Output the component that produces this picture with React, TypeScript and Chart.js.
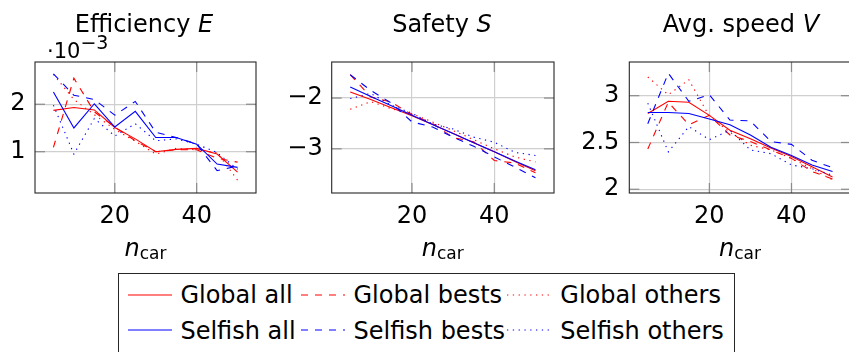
import React, { useEffect, useRef } from "react";
import { Chart, registerables } from "chart.js";

Chart.register(...registerables);

const FONT = "'DejaVu Sans', 'Liberation Sans', sans-serif";

// ---------- data ----------
const nCar = [5, 10, 15, 20, 25, 30, 35, 40, 45, 50];
const xTicks = [20, 40];

// Efficiency E (in units of 1e-3)
const effGlobalAll = [1.87, 1.93, 1.88, 1.51, 1.27, 1.0, 1.05, 1.07, 0.95, 0.57];
const effGlobalBests = [1.09, 2.55, 1.84, 1.52, 1.23, 1.0, 1.04, 1.04, 0.86, 0.78];
const effGlobalOthers = [2.63, 2.1, 1.78, 1.47, 1.22, 0.95, 1.07, 1.04, 0.98, 0.4];
const effSelfishAll = [2.26, 1.5, 2.01, 1.52, 1.85, 1.3, 1.3, 1.16, 0.74, 0.67];
const effSelfishBests = [2.64, 2.19, 2.1, 1.77, 2.06, 1.41, 1.3, 1.16, 0.6, 0.7];
const effSelfishOthers = [1.98, 0.95, 1.7, 1.33, 1.59, 1.23, 1.27, 1.16, 0.98, 0.63];
const effTicks = [1, 2];

// Safety S
const safGlobalAll = [-1.88, -2.03, -2.19, -2.35, -2.52, -2.7, -2.88, -3.06, -3.25, -3.43];
const safGlobalBests = [-1.54, -1.98, -2.08, -2.33, -2.5, -2.78, -2.86, -3.23, -3.28, -3.47];
const safGlobalOthers = [-2.22, -2.07, -2.21, -2.31, -2.47, -2.64, -2.82, -3.0, -3.16, -3.26];
const safSelfishAll = [-1.78, -1.97, -2.15, -2.34, -2.52, -2.7, -2.88, -3.06, -3.24, -3.41];
const safSelfishBests = [-1.54, -1.85, -2.1, -2.47, -2.57, -2.77, -2.95, -3.16, -3.36, -3.57];
const safSelfishOthers = [-2.01, -1.91, -2.14, -2.3, -2.51, -2.61, -2.77, -2.87, -3.07, -3.13];
const safTicks = [-3, -2];

// Avg. speed V
const spdGlobalAll = [2.81, 2.94, 2.93, 2.79, 2.63, 2.54, 2.44, 2.35, 2.24, 2.13];
const spdGlobalBests = [2.43, 2.93, 2.69, 2.79, 2.58, 2.51, 2.42, 2.33, 2.19, 2.11];
const spdGlobalOthers = [3.2, 3.01, 3.17, 2.78, 2.61, 2.47, 2.42, 2.33, 2.22, 2.1];
const spdSelfishAll = [2.82, 2.82, 2.81, 2.75, 2.69, 2.58, 2.45, 2.36, 2.26, 2.19];
const spdSelfishBests = [2.7, 3.24, 2.94, 3.01, 2.74, 2.73, 2.51, 2.48, 2.31, 2.23];
const spdSelfishOthers = [2.92, 2.4, 2.67, 2.53, 2.63, 2.42, 2.38, 2.26, 2.22, 2.15];
const spdTicks = [2, 2.5, 3];

const seriesLabels = [
  "Global all",
  "Global bests",
  "Global others",
  "Selfish all",
  "Selfish bests",
  "Selfish others",
];
const seriesColors = ["#ff0000", "#ff0000", "#ff0000", "#0000ff", "#0000ff", "#0000ff"];
const DASHED = [7, 7];
const DOTTED = [1.3, 4.5];
const seriesDash: number[][] = [[], DASHED, DOTTED, [], DASHED, DOTTED];

const GRID = "#cfcfcf";
const TICKMARK = "#8a8a8a";

const fmt = (v: number) => {
  const s = String(Math.round(v * 100) / 100);
  return s.startsWith("-") ? "\u2212" + s.slice(1) : s;
};

const boxPlugin = {
  id: "pgfbox",
  afterDatasetsDraw(chart: any) {
    const { ctx, chartArea: a, scales } = chart;
    ctx.save();
    ctx.strokeStyle = TICKMARK;
    ctx.lineWidth = 1.2;
    const seg = (x1: number, y1: number, x2: number, y2: number) => {
      ctx.beginPath();
      ctx.moveTo(x1, y1);
      ctx.lineTo(x2, y2);
      ctx.stroke();
    };
    scales.x.ticks.forEach((t: any) => {
      const px = scales.x.getPixelForValue(t.value);
      seg(px, a.top, px, a.top + 10);
      seg(px, a.bottom - 10, px, a.bottom);
    });
    scales.y.ticks.forEach((t: any) => {
      const py = scales.y.getPixelForValue(t.value);
      seg(a.left, py, a.left + 10, py);
      seg(a.right - 10, py, a.right, py);
    });
    ctx.strokeStyle = "#262626";
    ctx.lineWidth = 1.1;
    ctx.strokeRect(a.left, a.top, a.right - a.left, a.bottom - a.top);
    ctx.restore();
  },
};

type PanelProps = {
  values: number[][];
  yMin: number;
  yMax: number;
  yTicks: number[];
  left: number;
  width: number;
  yAxisWidth: number;
  padRight: number;
  yPad: number;
};

function Panel({ values, yMin, yMax, yTicks, left, width, yAxisWidth, padRight, yPad }: PanelProps) {
  const ref = useRef<HTMLCanvasElement>(null);
  useEffect(() => {
    const chart = new Chart(ref.current as HTMLCanvasElement, {
      type: "line",
      data: {
        datasets: values.map((v, i) => ({
          label: seriesLabels[i],
          data: nCar.map((x, j) => ({ x, y: v[j] })),
          borderColor: seriesColors[i],
          borderWidth: 1.1,
          borderDash: seriesDash[i],
          pointRadius: 0,
          tension: 0,
          fill: false,
          order: 10 - i,
        })),
      },
      options: {
        responsive: false,
        animation: false,
        events: [],
        layout: { padding: { top: 62, right: padRight, left: 0, bottom: 0 } },
        plugins: { legend: { display: false }, tooltip: { enabled: false } },
        scales: {
          x: {
            type: "linear",
            min: 0.5,
            max: 54.5,
            afterBuildTicks: (s: any) => {
              s.ticks = xTicks.map((value) => ({ value }));
            },
            afterFit: (s: any) => {
              s.height = 47;
            },
            grid: { color: GRID, lineWidth: 1.2, drawTicks: false },
            border: { display: false },
            ticks: {
              padding: 9,
              color: "#000",
              font: { family: FONT, size: 24 },
              maxRotation: 0,
              autoSkip: false,
              callback: (v: any) => fmt(Number(v)),
            },
          },
          y: {
            type: "linear",
            min: yMin,
            max: yMax,
            afterBuildTicks: (s: any) => {
              s.ticks = yTicks.map((value) => ({ value }));
            },
            afterFit: (s: any) => {
              s.width = yAxisWidth;
            },
            grid: { color: GRID, lineWidth: 1.2, drawTicks: false },
            border: { display: false },
            ticks: {
              padding: yPad,
              color: "#000",
              font: { family: FONT, size: 24 },
              autoSkip: false,
              callback: (v: any) => fmt(Number(v)),
            },
          },
        },
      } as any,
      plugins: [boxPlugin],
    });
    return () => chart.destroy();
  }, []);
  return (
    <canvas
      ref={ref}
      width={width}
      height={240}
      style={{ position: "absolute", left, top: 0, width, height: 240 }}
    />
  );
}

const abs = (extra: React.CSSProperties): React.CSSProperties => ({
  position: "absolute",
  whiteSpace: "nowrap",
  ...extra,
});

function Title({ cx, children }: { cx: number; children: React.ReactNode }) {
  return (
    <div
      style={abs({
        left: cx - 150,
        width: 300,
        top: 11.7,
        textAlign: "center",
        fontSize: 24,
        lineHeight: "24px",
      })}
    >
      {children}
    </div>
  );
}

function XLabel({ cx }: { cx: number }) {
  return (
    <div
      style={abs({
        left: cx - 100,
        width: 200,
        top: 235.7,
        textAlign: "center",
        fontSize: 24,
        lineHeight: "24px",
      })}
    >
      <i>n</i>
      <span style={{ fontSize: 17, position: "relative", top: 3.3 }}>car</span>
    </div>
  );
}

function Sample({ x1, x2, y, color, dash }: { x1: number; x2: number; y: number; color: string; dash: number[] }) {
  return (
    <svg
      width={x2 - x1}
      height={6}
      style={{ position: "absolute", left: x1, top: y - 3, overflow: "visible" }}
    >
      <line
        x1={0}
        y1={3}
        x2={x2 - x1}
        y2={3}
        stroke={color}
        strokeWidth={1.1}
        strokeDasharray={dash.length ? dash.join(" ") : undefined}
      />
    </svg>
  );
}

function Legend() {
  const sampleX = [
    [128, 172],
    [301, 345],
    [507, 551],
  ];
  const textX = [180.4, 353.5, 560.3];
  const rowY = [295, 330.3];
  const rowTop = [283, 318.7];
  return (
    <>
      <div
        style={abs({
          left: 118.3,
          top: 272.7,
          width: 735 - 118.3,
          height: 120,
          border: "1px solid #262626",
          boxSizing: "border-box",
        })}
      />
      {seriesLabels.map((lab, i) => {
        const r = Math.floor(i / 3);
        const c = i % 3;
        return (
          <React.Fragment key={lab}>
            <Sample
              x1={sampleX[c][0]}
              x2={sampleX[c][1]}
              y={rowY[r]}
              color={seriesColors[i]}
              dash={seriesDash[i]}
            />
            <div style={abs({ left: textX[c], top: rowTop[r], fontSize: 24, lineHeight: "24px" })}>{lab}</div>
          </React.Fragment>
        );
      })}
    </>
  );
}

export default function App() {
  return (
    <div
      style={{
        position: "fixed",
        left: 0,
        top: 0,
        width: 849,
        height: 352,
        overflow: "hidden",
        background: "#fff",
        fontFamily: FONT,
        color: "#000",
      }}
    >
      <Panel
        values={[effGlobalAll, effGlobalBests, effGlobalOthers, effSelfishAll, effSelfishBests, effSelfishOthers]}
        yMin={0.13}
        yMax={2.89}
        yTicks={effTicks}
        left={0}
        width={280}
        yAxisWidth={35}
        padRight={24}
        yPad={9.5}
      />
      <Panel
        values={[safGlobalAll, safGlobalBests, safGlobalOthers, safSelfishAll, safSelfishBests, safSelfishOthers]}
        yMin={-3.87}
        yMax={-1.29}
        yTicks={safTicks}
        left={280}
        width={290}
        yAxisWidth={51.7}
        padRight={16}
        yPad={9}
      />
      <Panel
        values={[spdGlobalAll, spdGlobalBests, spdGlobalOthers, spdSelfishAll, spdSelfishBests, spdSelfishOthers]}
        yMin={1.96}
        yMax={3.36}
        yTicks={spdTicks}
        left={580}
        width={290}
        yAxisWidth={49.3}
        padRight={19}
        yPad={10}
      />
      <Title cx={144}>
        Efficiency <i>E</i>
      </Title>
      <Title cx={442}>
        Safety <i>S</i>
      </Title>
      <Title cx={741}>
        Avg. speed <i>V</i>
      </Title>
      <div style={abs({ left: 47, top: 40.5, fontSize: 21, lineHeight: "21px" })}>
        ·10
        <span style={{ fontSize: 19, position: "relative", top: -9 }}>{"\u22123"}</span>
      </div>
      <XLabel cx={145.5} />
      <XLabel cx={442.8} />
      <XLabel cx={740} />
      <Legend />
    </div>
  );
}
